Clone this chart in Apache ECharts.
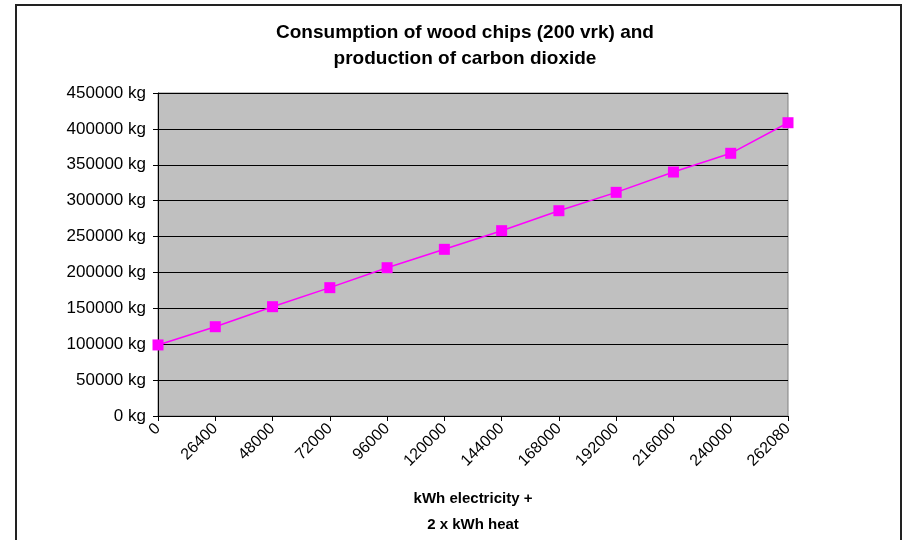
<!DOCTYPE html>
<html>
<head>
<meta charset="utf-8">
<script src="https://cdn.jsdelivr.net/npm/echarts@6/dist/echarts.min.js"></script>
<style>html,body{margin:0;padding:0;background:#fff}#c{width:906px;height:540px}</style>
</head>
<body>
<div id="c"></div>
<script>
const categories = ['0','26400','48000','72000','96000','120000','144000','168000','192000','216000','240000','262080'];
const co2Values = [99000,124400,152300,178800,206600,232200,258200,286000,311600,339900,366000,408600];
const yMin = 0, yMax = 450000, yStep = 50000;

const chart = echarts.init(document.getElementById('c'), null, {renderer:'canvas'});
chart.setOption({
  animation:false,
  backgroundColor:'#fff',
  title:{
    text:'Consumption of wood chips (200 vrk) and\nproduction of carbon dioxide',
    left:460, top:15, textAlign:'center',
    textStyle:{fontFamily:'Liberation Sans, Arial',fontWeight:'bold',fontSize:19,lineHeight:26,color:'#000'}
  },
  graphic:[{
    type:'rect', shape:{x:16,y:5,width:885,height:560},
    style:{fill:'none',stroke:'#222',lineWidth:2}, z:-1
  }],
  grid:{left:158,right:118,top:93,bottom:124,outerBoundsMode:'none',containLabel:false,show:true,backgroundColor:'#C0C0C0',borderColor:'#808080',borderWidth:1},
  xAxis:{
    type:'category', data:categories, boundaryGap:false,
    name:'kWh electricity +\n2 x kWh heat', nameLocation:'middle', nameGap:70,
    nameTextStyle:{fontFamily:'Liberation Sans, Arial',fontWeight:'bold',fontSize:15,lineHeight:26,color:'#000'},
    axisLine:{lineStyle:{color:'#000',width:1}},
    axisTick:{show:true,alignWithLabel:true,length:5,lineStyle:{color:'#000'}},
    axisLabel:{rotate:45,interval:0,margin:10,fontFamily:'Liberation Sans, Arial',fontSize:16,color:'#000'},
    splitLine:{show:false}
  },
  yAxis:{
    type:'value', min:yMin, max:yMax, interval:yStep,
    axisLine:{show:true,lineStyle:{color:'#000',width:1}},
    axisTick:{show:true,length:5,lineStyle:{color:'#000'}},
    axisLabel:{formatter:v=>v+' kg',margin:12,fontFamily:'Liberation Sans, Arial',fontSize:17,color:'#000'},
    splitLine:{show:true,lineStyle:{color:'#000',width:1}}
  },
  series:[{
    type:'line', data:co2Values,
    symbol:'rect', symbolSize:11,
    lineStyle:{color:'#FF00FF',width:1.5},
    itemStyle:{color:'#FF00FF'},
    z:5
  }]
});
</script>
</body>
</html>
